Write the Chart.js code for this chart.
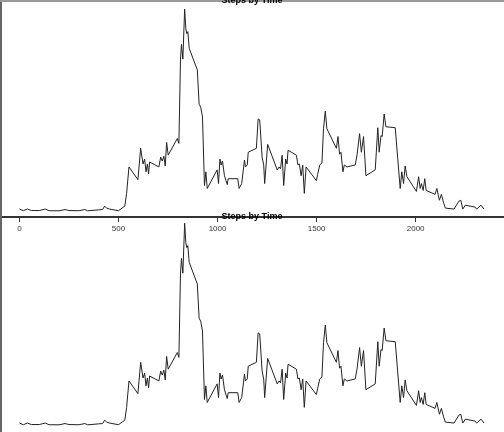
<!DOCTYPE html>
<html>
<head>
<meta charset="utf-8">
<script src="https://cdn.jsdelivr.net/npm/chart.js@4"></script>
<style>
  html, body { margin: 0; padding: 0; background: #fff; overflow: hidden; }
  body { width: 504px; height: 432px; position: relative; }
  .panel { position: absolute; left: 0; width: 504px; height: 240px; }
  .panel canvas { position: absolute; left: 0; top: 0; }
  .title { position: absolute; left: 0; width: 504px; text-align: center;
           font: bold 9px "Liberation Sans", Arial, sans-serif; color: #000; z-index: 2; }
</style>
</head>
<body>
<div class="panel" id="p1" style="top:0;border-top:2px solid #999;box-sizing:border-box;"><canvas id="c1" width="504" height="240"></canvas></div>
<div class="title" style="top:-5px">Steps by Time</div>
<div class="panel" id="p2" style="top:216px"><canvas id="c2" width="504" height="240"></canvas></div>
<div class="title" style="top:211px">Steps by Time</div>
<script>
// interval (HHMM style) and mean steps
let intervals = [0, 20, 40, 60, 100, 130, 150, 200, 230, 250, 300, 330, 345, 400, 420, 430, 440, 455, 500,
    532, 541, 553, 598, 612, 624, 632, 639, 646, 652, 657, 704, 713, 721, 729, 736, 743, 751, 797, 805,
    813, 818, 825, 834, 840, 845, 850, 857, 898, 907, 915, 924, 934, 941, 948, 998, 1005, 1012, 1018, 1025,
    1035, 1049, 1054, 1102, 1109, 1122, 1136, 1141, 1150, 1155, 1196, 1205, 1213, 1225, 1233, 1238, 1253,
    1292, 1301, 1311, 1318, 1326, 1334, 1344, 1351, 1356, 1398, 1406, 1413, 1422, 1430, 1438, 1447, 1499,
    1505, 1516, 1527, 1535, 1544, 1552, 1600, 1608, 1616, 1623, 1633, 1640, 1653, 1695, 1704, 1717, 1726,
    1737, 1749, 1796, 1809, 1816, 1825, 1831, 1841, 1850, 1897, 1909, 1922, 1930, 1939, 1947, 1956, 2004,
    2015, 2023, 2029, 2038, 2046, 2053, 2098, 2107, 2120, 2130, 2140, 2150, 2194, 2218, 2228, 2238, 2251,
    2300, 2308, 2330, 2345];
let steps = [2, 0.3, 2, 0.5, 0.5, 2, 0.3, 0.2, 1.5, 0.5, 0.3, 1.5, 0.2, 1.2, 1.5, 5, 3, 2, 0.3,
    5, 18, 45, 32, 64, 48, 53, 40, 48, 38, 50, 45, 55, 51, 56, 46, 70, 57, 74, 69,
    155, 170, 155, 206, 186, 181, 183, 166, 144, 109, 106, 96, 26, 40, 23, 42, 28, 53, 47, 51,
    36, 27, 33, 33, 23, 28, 52, 45, 47, 60, 64, 94, 93, 55, 47, 28, 68,
    47, 42, 45, 43, 57, 26, 53, 48, 62, 57, 47, 48, 36, 47, 18, 45, 31,
    37, 47, 49, 84, 102, 84, 64, 76, 58, 60, 40, 47, 45, 47, 57, 79, 60,
    76, 36, 42, 85, 60, 77, 76, 99, 86, 85, 55, 23, 40, 28, 46, 35, 20,
    35, 23, 28, 21, 33, 21, 17, 23, 11, 17, 9, 3, 2, 10, 11, 2, 6,
    4, 2, 6, 2];
let xTicks = [0, 500, 1000, 1500, 2000];
let yTicks = [0, 50, 100, 150, 200];

function makeChart(id, showX) {
    let points = intervals.map((x, i) => ({x: x, y: steps[i]}));
    return new Chart(document.getElementById(id), {
        type: 'line',
        data: { datasets: [{ data: points, borderColor: '#222', borderWidth: 1, pointRadius: 0, tension: 0 }] },
        options: {
            responsive: false,
            animation: false,
            layout: { padding: 0 },
            plugins: { legend: { display: false }, title: { display: false }, tooltip: { enabled: false } },
            scales: {
                x: {
                    type: 'linear', min: -93, max: 2446,
                    afterFit: s => { s.height = 25; },
                    afterBuildTicks: s => { s.ticks = xTicks.map(v => ({value: v})); },
                    grid: { display: showX, drawOnChartArea: false, tickLength: 5, color: '#333' },
                    border: { display: showX, color: '#333', width: 2 },
                    ticks: { display: showX, color: '#333', padding: 2, maxRotation: 0,
                             font: { size: 8, family: 'Liberation Sans' },
                             callback: v => String(v) }
                },
                y: {
                    min: -6.1, max: 213.3,
                    afterFit: s => { s.width = 1; },
                    afterBuildTicks: s => { s.ticks = yTicks.map(v => ({value: v})); },
                    grid: { drawOnChartArea: false, tickLength: 2, color: '#555' },
                    border: { color: '#666', width: 2 },
                    ticks: { display: false }
                }
            }
        }
    });
}

makeChart('c1', true);
makeChart('c2', false);
</script>
</body>
</html>
